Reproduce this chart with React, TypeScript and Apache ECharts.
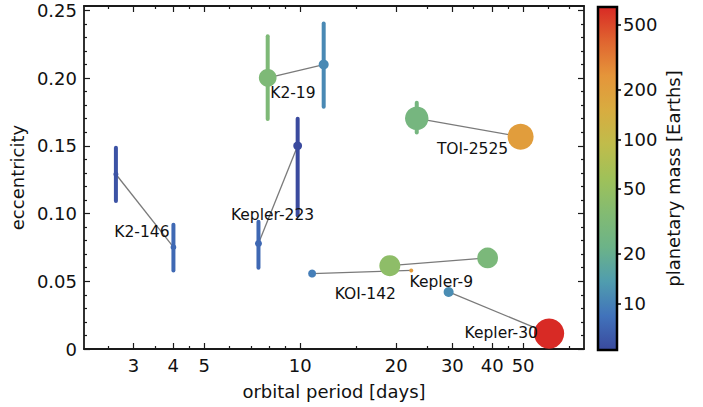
import { useEffect, useRef } from 'react';
import * as echarts from 'echarts';

// ---- data ----
const planetNames = ['K2-146 b', 'K2-146 c', 'Kepler-223 b', 'Kepler-223 c', 'K2-19 b', 'K2-19 c', 'KOI-142 b', 'KOI-142 c', 'Kepler-9 b', 'Kepler-9 c', 'TOI-2525 b', 'TOI-2525 c', 'Kepler-30 b', 'Kepler-30 c'];
const systems = ['K2-146', 'K2-146', 'Kepler-223', 'Kepler-223', 'K2-19', 'K2-19', 'KOI-142', 'KOI-142', 'Kepler-9', 'Kepler-9', 'TOI-2525', 'TOI-2525', 'Kepler-30', 'Kepler-30'];
const periods = [2.644, 4.005, 7.40, 9.82, 7.91, 11.85, 10.9, 22.3, 19.1, 38.7, 23.2, 49.1, 29.2, 60.3];
const eccentricities = [0.129, 0.0752, 0.0779, 0.150, 0.2002, 0.210, 0.0557, 0.0580, 0.0615, 0.0672, 0.1703, 0.1567, 0.0421, 0.0114];
const eccLow: (number | null)[] = [0.1093, 0.058, 0.060, 0.0985, 0.1697, 0.1788, null, null, null, null, 0.1599, null, null, null];
const eccHigh: (number | null)[] = [0.1486, 0.0917, 0.0939, 0.170, 0.2309, 0.2402, null, null, null, null, 0.1817, null, null, null];
const masses = [5.8, 7.5, 7.4, 5.2, 32, 10.8, 9.5, 210, 43, 30, 27, 208, 11.3, 640];
const radii = [2.0, 2.3, 2.8, 3.5, 7.1, 4.0, 3.2, 1.6, 8.4, 8.3, 9.4, 10.4, 4.0, 12.1];

const labelTexts = ['K2-146', 'Kepler-223', 'K2-19', 'KOI-142', 'Kepler-9', 'TOI-2525', 'Kepler-30'];
const labelPeriods = [3.19, 8.19, 9.49, 16.0, 27.7, 34.7, 42.7];
const labelEcc = [0.0865, 0.099, 0.1887, 0.0406, 0.0492, 0.1476, 0.0119];

const xMajorTicks = [3, 4, 5, 10, 20, 30, 40, 50];
const xMinorTicks = [2.5, 3.5, 4.5, 6, 7, 8, 9, 15, 25, 35, 45, 60, 70];
const yMajorTicks = [0, 0.05, 0.1, 0.15, 0.2, 0.25];
const yMinorTicks = [0.01, 0.02, 0.03, 0.04, 0.06, 0.07, 0.08, 0.09, 0.11, 0.12, 0.13, 0.14, 0.16, 0.17, 0.18, 0.19, 0.21, 0.22, 0.23, 0.24];
const massTicks = [10, 20, 50, 100, 200, 500];
const massRange = [5.2, 640];
const periodRange = [2.1, 77.6];
const eccRange = [0, 0.2532];

const colormap = ['#3a4a9e', '#4173bb', '#509dae', '#6cb388', '#83bb72', '#9fc159', '#c0bc4b', '#d8ac40', '#e5953a', '#e06530', '#d82a25'];

const FONT = "'DejaVu Sans', sans-serif";
const TXT = '#111';
const AX = '#1a1a1a';

export default function App() {
  const ref = useRef<HTMLDivElement>(null);
  useEffect(() => {
    if (!ref.current) return;
    const chart = echarts.init(ref.current, null, { renderer: 'svg' });

    const systemList = Array.from(new Set(systems));
    const lineSeries = systemList.map((s) => ({
      type: 'line',
      name: s,
      data: periods.map((p, i) => (systems[i] === s ? [p, eccentricities[i]] : null)).filter(Boolean),
      symbol: 'none',
      lineStyle: { color: '#7a7a7a', width: 1.3 },
      silent: true,
      z: 2,
    }));

    const errData = periods
      .map((p, i) => (eccLow[i] == null ? null : [p, eccentricities[i], Math.log10(masses[i]), eccLow[i], eccHigh[i]]))
      .filter(Boolean);

    const scatterData = periods.map((p, i) => ({
      name: planetNames[i],
      value: [p, eccentricities[i], Math.log10(masses[i]), radii[i]],
    }));

    const labelData = labelTexts.map((t, i) => ({ name: t, value: [labelPeriods[i], labelEcc[i]] }));

    const errIdx = lineSeries.length;
    const scatIdx = errIdx + 1;

    const xBase = (pos: 'top' | 'bottom', ticks: number[], len: number, showLine: boolean, showLabel: boolean, name?: string) => ({
      type: 'log',
      gridIndex: 0,
      position: pos,
      min: periodRange[0],
      max: periodRange[1],
      axisLine: { show: showLine, onZero: false, lineStyle: { color: AX, width: 1.8 } },
      axisTick: { show: true, inside: true, length: len, customValues: ticks, lineStyle: { color: AX, width: 1.2 } },
      minorTick: { show: false },
      axisLabel: showLabel
        ? { show: true, customValues: ticks, fontSize: 18, fontFamily: FONT, color: TXT, margin: 7 }
        : { show: false },
      splitLine: { show: false },
      name: name,
      nameLocation: 'middle',
      nameGap: 33,
      nameTextStyle: { fontSize: 18, fontFamily: FONT, color: TXT },
    });
    const yBase = (pos: 'left' | 'right', ticks: number[], len: number, showLine: boolean, showLabel: boolean, name?: string) => ({
      type: 'value',
      gridIndex: 0,
      position: pos,
      min: eccRange[0],
      max: eccRange[1],
      axisLine: { show: showLine, onZero: false, lineStyle: { color: AX, width: 1.8 } },
      axisTick: { show: true, inside: true, length: len, customValues: ticks, lineStyle: { color: AX, width: 1.2 } },
      axisLabel: showLabel
        ? {
            show: true,
            customValues: ticks,
            fontSize: 18,
            fontFamily: FONT,
            color: TXT,
            margin: 7,
            formatter: (v: number) => (v === 0 ? '0' : v.toFixed(2)),
          }
        : { show: false },
      splitLine: { show: false },
      name: name,
      nameLocation: 'middle',
      nameRotate: 90,
      nameGap: 58,
      nameTextStyle: { fontSize: 18, fontFamily: FONT, color: TXT },
    });

    const stops = colormap.map((c, i) => ({ offset: i / (colormap.length - 1), color: c }));

    const option: any = {
      animation: false,
      backgroundColor: '#fff',
      grid: [
        { left: 83, top: 6, width: 501, height: 343 },
        { left: 598, top: 7, width: 19, height: 343 },
      ],
      xAxis: [
        xBase('bottom', xMajorTicks, 6, true, true, 'orbital period [days]'),
        xBase('bottom', xMinorTicks, 3, false, false),
        xBase('top', xMajorTicks, 6, true, false),
        xBase('top', xMinorTicks, 3, false, false),
        { type: 'value', gridIndex: 1, show: false, min: 0, max: 1 },
      ],
      yAxis: [
        yBase('left', yMajorTicks, 6, true, true, 'eccentricity'),
        yBase('left', yMinorTicks, 3, false, false),
        yBase('right', yMajorTicks, 6, true, false),
        yBase('right', yMinorTicks, 3, false, false),
        {
          type: 'log',
          gridIndex: 1,
          position: 'right',
          min: massRange[0],
          max: massRange[1],
          axisLine: { show: false, onZero: false },
          axisTick: { show: true, inside: false, length: 4, customValues: massTicks, lineStyle: { color: '#000', width: 1.5 } },
          minorTick: { show: false },
          axisLabel: { show: true, customValues: massTicks, fontSize: 18, fontFamily: FONT, color: TXT, margin: 6 },
          splitLine: { show: false },
          name: 'planetary mass [Earths]',
          nameLocation: 'middle',
          nameRotate: 90,
          nameGap: 47,
          nameTextStyle: { fontSize: 18, fontFamily: FONT, color: TXT },
        },
      ],
      visualMap: {
        type: 'continuous',
        show: false,
        dimension: 2,
        min: Math.log10(massRange[0]),
        max: Math.log10(massRange[1]),
        inRange: { color: colormap },
        seriesIndex: [errIdx, scatIdx],
      },
      graphic: [
        {
          type: 'rect',
          shape: { x: 598, y: 7, width: 19, height: 343 },
          style: {
            fill: { type: 'linear', x: 0, y: 1, x2: 0, y2: 0, colorStops: stops },
            stroke: '#000',
            lineWidth: 2.5,
          },
          z: 1,
        },
      ],
      series: [
        ...lineSeries,
        {
          type: 'custom',
          name: 'errors',
          data: errData,
          encode: { x: 0, y: [3, 4] },
          z: 3,
          silent: true,
          renderItem: (params: any, api: any) => {
            const x = api.value(0);
            const p1 = api.coord([x, api.value(3)]);
            const p2 = api.coord([x, api.value(4)]);
            return {
              type: 'line',
              shape: { x1: p1[0], y1: p1[1], x2: p2[0], y2: p2[1] },
              style: { stroke: api.visual('color'), lineWidth: 4, lineCap: 'round' },
            };
          },
        },
        {
          type: 'scatter',
          name: 'planets',
          data: scatterData,
          symbol: 'circle',
          symbolSize: (val: number[]) => val[3] * 2.5,
          itemStyle: { opacity: 1 },
          z: 4,
        },
        {
          type: 'scatter',
          name: 'labels',
          data: labelData,
          symbolSize: 0,
          silent: true,
          z: 5,
          itemStyle: { color: '#111' },
          label: {
            show: true,
            position: 'inside',
            formatter: (p: any) => p.name,
            fontSize: 15.5,
            fontFamily: FONT,
            color: '#111',
            opacity: 1,
            textBorderWidth: 0,
            textBorderColor: 'transparent',
            textShadowBlur: 0,
          },
        },
      ],
    };

    chart.setOption(option);
    return () => chart.dispose();
  }, []);

  return <div ref={ref} style={{ position: 'absolute', left: 0, top: 0, width: 703, height: 407 }} />;
}
